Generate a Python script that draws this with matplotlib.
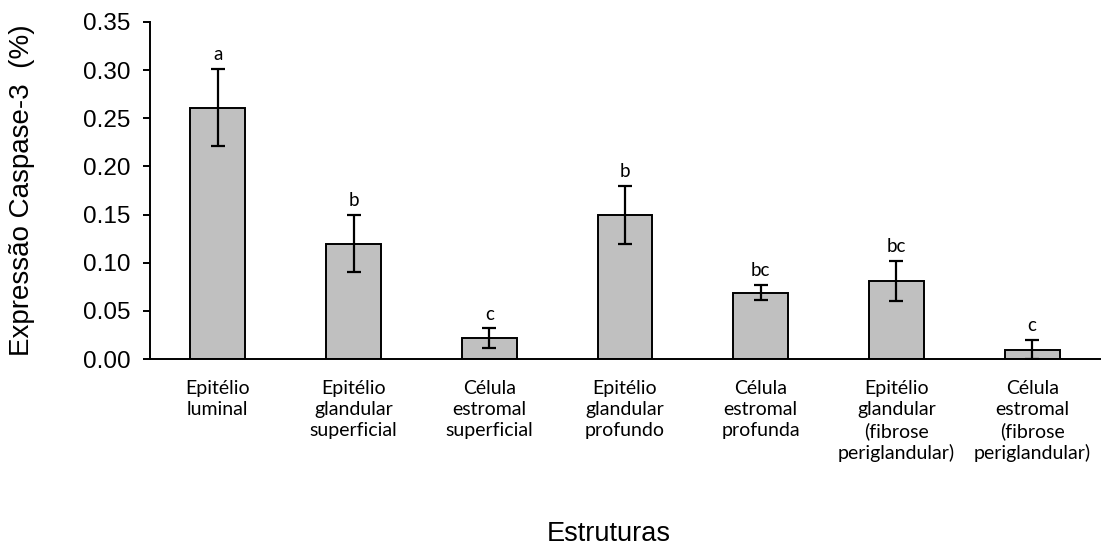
#!/usr/bin/env python
# plot.py - caspase-3 expression per structure
import matplotlib
matplotlib.use("Agg")
from matplotlib import pyplot as plt
import numpy as np

# categories and values
categorias = ["Epitélio\nluminal",
              "Epitélio\nglandular\nsuperficial",
              "Célula\nestromal\nsuperficial",
              "Epitélio\nglandular\nprofundo",
              "Célula\nestromal\nprofunda",
              "Epitélio\nglandular\n(fibrose\nperiglandular)",
              "Célula\nestromal\n(fibrose\nperiglandular)"]
medias = [0.261, 0.120, 0.022, 0.150, 0.069, 0.081, 0.010]
erros = [0.040, 0.030, 0.010, 0.030, 0.008, 0.021, 0.010]
letras = ["a", "b", "c", "b", "bc", "bc", "c"]
yticks = [0.00, 0.05, 0.10, 0.15, 0.20, 0.25, 0.30, 0.35]

fig = plt.figure(figsize=(11.06, 5.5), dpi=100)
ax = fig.add_axes([0.1356, 0.347, 0.859, 0.613])

x = np.arange(len(categorias))
ax.bar(x, medias, width=0.405, color="#c0c0c0", edgecolor="black", linewidth=1.4)
ax.errorbar(x, medias, yerr=erros, fmt="none", ecolor="black",
            elinewidth=1.6, capsize=4.7, capthick=1.6)

# significance letters above the error bars
for xi, m, e, l in zip(x, medias, erros, letras):
    ax.text(xi, m + e + 0.006, l, ha="center", va="bottom",
            fontsize=13.5, family="Lato")

ax.set_xlim(-0.5, 6.5)
ax.set_ylim(0, 0.35)
ax.set_yticks(yticks)
ax.set_yticklabels(["%.2f" % t for t in yticks], family="Liberation Sans", fontsize=17.5)
ax.tick_params(axis="y", direction="out", length=5, width=1.4, pad=9)
ax.set_xticks(x)
ax.set_xticklabels(categorias, family="Lato", fontsize=14, linespacing=1.28, va="top")
ax.tick_params(axis="x", length=0, pad=15)

for s in ["top", "right"]:
    ax.spines[s].set_visible(False)
for s in ["left", "bottom"]:
    ax.spines[s].set_linewidth(1.4)

fig.text(22 / 1106, 1 - 190 / 550, "Expressão Caspase-3  (%)", rotation=90,
         ha="center", va="center", family="Liberation Sans", fontsize=20)
fig.text(609 / 1106, 1 - 534 / 550, "Estruturas", ha="center", va="center",
         family="Liberation Sans", fontsize=19.5)

plt.savefig("out.png", dpi=100)
